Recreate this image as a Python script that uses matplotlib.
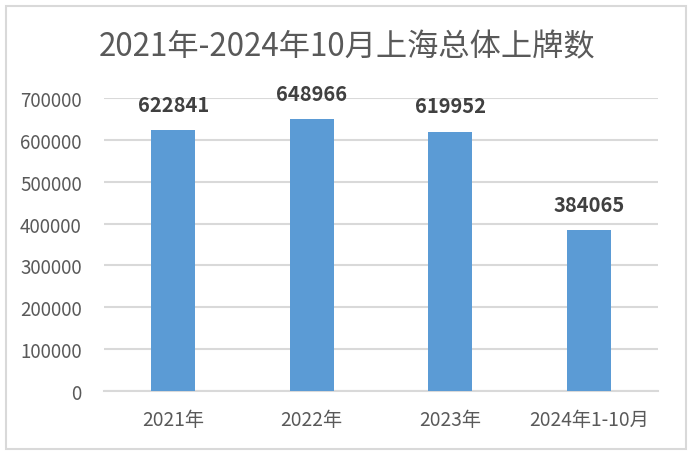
import matplotlib
matplotlib.use('Agg')
import matplotlib.pyplot as plt
from matplotlib.patches import Rectangle

plt.rcParams['font.family'] = ['Noto Sans CJK SC', 'DejaVu Sans']

# data
categories = ['2021年', '2022年', '2023年', '2024年1-10月']
values = [622841, 648966, 619952, 384065]
yticks = [0, 100000, 200000, 300000, 400000, 500000, 600000, 700000]

fig = plt.figure(figsize=(6.94, 4.6), dpi=100)
ax = fig.add_axes([104/694, 1 - 392/460, 554/694, 293/460])

# outer chart border
fig.patches.append(Rectangle((6/694, 1 - 450/460), 680/694, 443/460,
                             transform=fig.transFigure, fill=False,
                             edgecolor='#D9D9D9', linewidth=1.5))

x = range(len(categories))
bars = ax.bar(x, values, width=0.315, color='#5B9BD5', zorder=3)
for b, v in zip(bars, values):
    ax.annotate(str(v), (b.get_x() + b.get_width() / 2, v),
                xytext=(0, 11), textcoords='offset points',
                ha='center', va='bottom', fontsize=14.5,
                fontweight='bold', color='#404040')

ax.set_xlim(-0.5, 3.5)
ax.set_ylim(0, 700000)
ax.set_yticks(yticks)
ax.set_yticklabels([str(t) for t in yticks])
ax.set_xticks(list(x))
ax.set_xticklabels(categories)
ax.yaxis.grid(True, color='#D9D9D9', linewidth=1.5, zorder=0)
for s in ['top', 'right', 'left']:
    ax.spines[s].set_visible(False)
ax.spines['bottom'].set_color('#D9D9D9')
ax.spines['bottom'].set_linewidth(1.5)
ax.tick_params(axis='both', length=0, colors='#595959')
ax.tick_params(axis='y', pad=16, labelsize=13.5)
ax.tick_params(axis='x', pad=13, labelsize=13.8)

fig.text(0.5, 1 - 47/460, '2021年-2024年10月上海总体上牌数',
         ha='center', va='center', fontsize=22.5, color='#595959')

fig.savefig('out.png', dpi=100)
